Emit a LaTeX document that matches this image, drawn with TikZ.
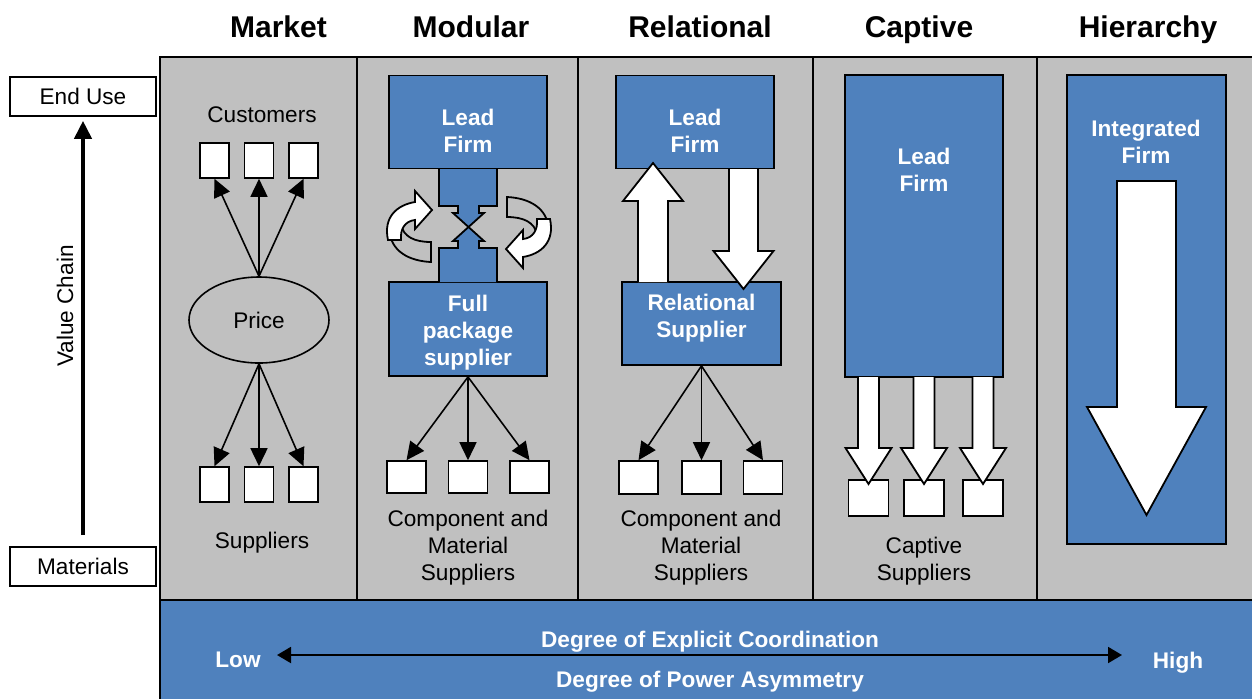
\documentclass[tikz,border=0pt]{standalone}
\usepackage{fontspec}
\setmainfont{Liberation Sans}
\usepackage{xcolor}
\usepackage{tikz}
\usetikzlibrary{shapes.geometric, arrows.meta}
\definecolor{firmblue}{HTML}{4F81BD}
\definecolor{panelgray}{HTML}{C0C0C0}
\newcommand{\bodyfont}{\fontsize{11.3}{13.5}\selectfont}
\tikzstyle{arrow} = [thick,-{Triangle[length=9pt,width=8.5pt]}]
\tikzstyle{fatarrow} = [draw=black, fill=white, line width=0.9pt]
\tikzstyle{firm} = [draw=black, fill=firmblue, line width=0.9pt, inner sep=0pt]
\tikzstyle{firmlabel} = [text=white, font=\bodyfont\bfseries, align=center]
\tikzstyle{unit} = [draw=black, fill=white, line width=0.8pt, inner sep=0pt]
\tikzstyle{caption} = [font=\bodyfont, align=center]
\tikzstyle{header} = [font=\fontsize{15}{18}\selectfont\bfseries, anchor=base]
\tikzstyle{endbox} = [unit, minimum width=73pt, minimum height=19.5pt, font=\bodyfont]

% block arrow: x, half shaft, half head, start y, head base y, tip y
\newcommand{\blockarrow}[6]{%
  \filldraw[fatarrow] ({#1-#2},#4) -- ({#1-#2},#5) -- ({#1-#3},#5) -- (#1,#6)
    -- ({#1+#3},#5) -- ({#1+#2},#5) -- ({#1+#2},#4);}
% twisted turn arrow (left one, the right one is the same turned round)
\newcommand{\turnarrow}{%
  \filldraw[fatarrow, fill=panelgray] (389,228) .. controls (390,252) and (410,261) .. (431,262)
    -- (431,242) .. controls (415,242) and (403,237) .. (401,224) -- cycle;
  \filldraw[fatarrow] (388,240) .. controls (383,217) and (397,205) .. (415,202)
    -- (415,191) -- (432,210) -- (415,229) -- (415,220)
    .. controls (405,221) and (400,229) .. (401,240) -- cycle;}

\begin{document}
\begin{tikzpicture}[x=0.5pt, y=-0.5pt]
	\useasboundingbox (0,0) rectangle (1252,698);
	% Panel and the coordination band:
	\fill[panelgray] (160,57) rectangle (1253,600);
	\draw[line width=1pt] (160,600) -- (160,57) -- (1253,57);
	\foreach \x in {357,578,813,1037}
		\draw[line width=1pt] (\x,57) -- (\x,600);
	\fill[firmblue] (160,600) rectangle (1253,699);
	\draw[line width=1pt] (160,699) -- (160,600) -- (1253,600);

	% Column titles:
	\node[header] (hmarket) at (278.5,37) {Market};
	\node[header] (hmodular) at (471,37) {Modular};
	\node[header] (hrelational) at (700,37) {Relational};
	\node[header] (hcaptive) at (919,37) {Captive};
	\node[header] (hhierarchy) at (1148,37) {Hierarchy};

	% Value chain axis:
	\node[endbox] (enduse) at (83,96.5) {End Use};
	\node[endbox] (materials) at (83,566.5) {Materials};
	\draw[line width=2pt, -{Triangle[length=9pt,width=8.5pt]}, shorten <=5.5pt, shorten >=2pt] (materials) -- (enduse);
	\node[caption, rotate=90] (valuechain) at (65,306) {Value Chain};

	% Market:
	\node[caption] (customers) at (262,115) {Customers};
	\node[draw, ellipse, line width=0.8pt, minimum width=70pt, minimum height=43pt, inner sep=0pt, font=\bodyfont] (price) at (259,320) {Price};
	\foreach \n/\x in {1/214.5,2/259,3/303.5}{%
		\node[unit, minimum width=14.5pt, minimum height=17.5pt] (cust\n) at (\x,160.5) {};
		\node[unit, minimum width=14.5pt, minimum height=17.5pt] (supp\n) at (\x,484.5) {};
		\draw[arrow] (price.north) -- (cust\n.south);
		\draw[arrow] (price.south) -- (supp\n.north);
	}
	\node[caption] (suppliers) at (262,543) {Suppliers};

	% Modular:
	\node[firm, minimum width=79pt, minimum height=46.5pt] (modlead) at (468,122) {};
	\node[firmlabel] (modleadtxt) at (468,130.5) {Lead\\Firm};
	\node[firm, minimum width=79pt, minimum height=47pt] (fullpkg) at (468,329) {};
	\node[firmlabel] (fullpkgtxt) at (468,333) {Full\\package\\supplier};
	\filldraw[fill=firmblue, line width=0.9pt] (439,169) -- (439,206) -- (458,206) -- (458,213) -- (453,213)
		-- (468.5,227) -- (484,213) -- (479,213) -- (479,206) -- (497,206) -- (497,169);
	\filldraw[fill=firmblue, line width=0.9pt] (439,282) -- (439,248) -- (458,248) -- (458,241) -- (453,241)
		-- (468.5,227) -- (484,241) -- (479,241) -- (479,248) -- (497,248) -- (497,282);
	\turnarrow
	\begin{scope}[rotate around={180:(469,229.5)}]
		\turnarrow
	\end{scope}
	\foreach \n/\x in {1/406.5,2/468,3/529.5}{%
		\node[unit, minimum width=19.5pt, minimum height=16pt] (mcomp\n) at (\x,477) {};
		\draw[arrow] (fullpkg.south) -- (mcomp\n.north);
	}
	\node[caption] (mcomptxt) at (468,548) {Component and\\Material\\Suppliers};

	% Relational:
	\node[firm, minimum width=79pt, minimum height=46.5pt] (rellead) at (695,122) {};
	\node[firmlabel] (relleadtxt) at (695,130.5) {Lead\\Firm};
	\node[firm, minimum width=79.5pt, minimum height=41.5pt] (relsup) at (701.5,323.5) {};
	\node[firmlabel] (relsuptxt) at (701.5,318.5) {Relational\\Supplier};
	\blockarrow{653}{15}{30}{282}{201}{163}
	\blockarrow{743.5}{14.5}{30}{169}{251}{289}
	\foreach \n/\x in {1/638.5,2/701.5,3/763}{%
		\node[unit, minimum width=19.5pt, minimum height=16.5pt] (rcomp\n) at (\x,477.5) {};
		\draw[arrow] (relsup.south) -- (rcomp\n.north);
	}
	\node[caption] (rcomptxt) at (701,548) {Component and\\Material\\Suppliers};

	% Captive:
	\node[firm, minimum width=79pt, minimum height=151pt] (caplead) at (924,226) {};
	\node[firmlabel] (capleadtxt) at (924,169.5) {Lead\\Firm};
	\foreach \n/\x in {1/868.5,2/924,3/983}{%
		\node[unit, minimum width=20pt, minimum height=18pt] (csup\n) at (\x,498) {};
		\blockarrow{\x}{10.5}{23}{377}{448}{484}
	}
	\node[caption] (csuptxt) at (924,561) {Captive\\Suppliers};

	% Hierarchy:
	\node[firm, minimum width=79.5pt, minimum height=234.5pt] (intfirm) at (1146.5,309.5) {};
	\node[firmlabel] (intfirmtxt) at (1146,142) {Integrated\\Firm};
	\filldraw[fatarrow] (1117,181) -- (1117,407) -- (1087,407) -- (1146.5,515) -- (1206,407) -- (1176,407) -- (1176,181) -- cycle;

	% Coordination band:
	\node[firmlabel] (low) at (238,660) {Low};
	\node[firmlabel] (high) at (1178,663) {High};
	\node[firmlabel] (coord) at (710,642) {Degree of Explicit Coordination};
	\node[firmlabel] (power) at (710,682) {Degree of Power Asymmetry};
	\coordinate (lowend) at (277,655);
	\coordinate (highend) at (1122,655);
	\draw[line width=1pt, {Triangle[length=7pt,width=8pt]}-{Triangle[length=7pt,width=8pt]}] (lowend) -- (highend);
\end{tikzpicture}
\end{document}
